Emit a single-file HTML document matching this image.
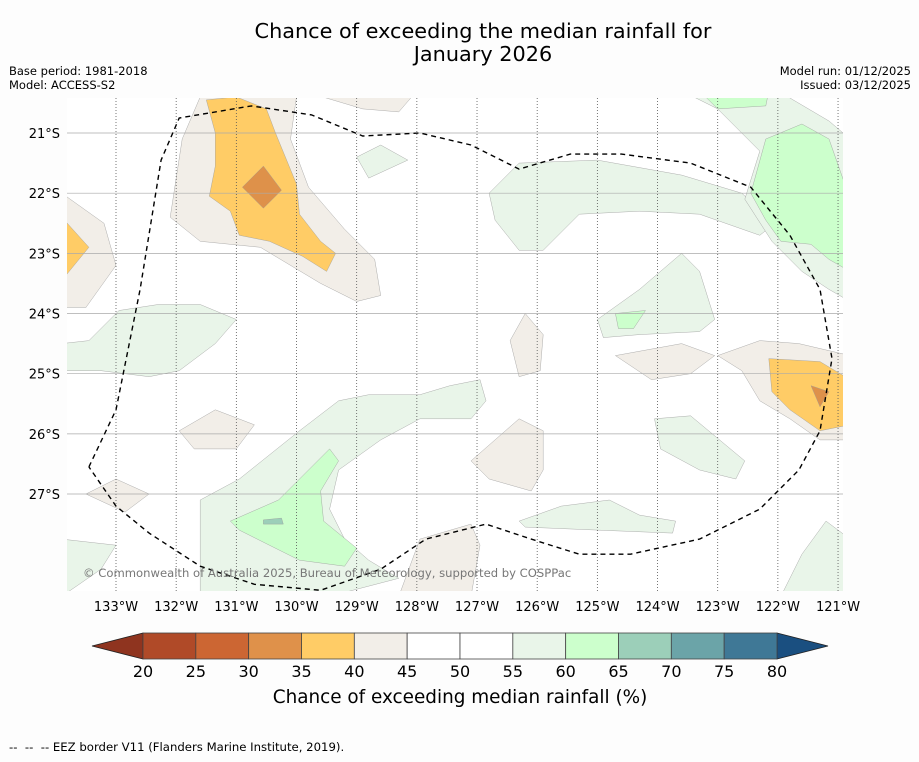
<!DOCTYPE html>
<html><head><meta charset="utf-8">
<style>
html,body{margin:0;padding:0;background:#fdfdfd;}
body{width:919px;height:758px;overflow:hidden;font-family:"DejaVu Sans","Liberation Sans",sans-serif;}
svg text{font-family:"DejaVu Sans","Liberation Sans",sans-serif;}
</style></head>
<body>
<svg id="chart" width="919" height="758" xmlns="http://www.w3.org/2000/svg">
<text x="483" y="38" font-size="20.8" text-anchor="middle" fill="#000">Chance of exceeding the median rainfall for</text>
<text x="483" y="61" font-size="20.8" text-anchor="middle" fill="#000">January 2026</text>
<text x="9" y="75" font-size="11.5">Base period: 1981-2018</text>
<text x="9" y="89" font-size="11.5">Model: ACCESS-S2</text>
<text x="911" y="75" font-size="11.5" text-anchor="end">Model run: 01/12/2025</text>
<text x="911" y="89" font-size="11.5" text-anchor="end">Issued: 03/12/2025</text>
<defs><clipPath id="mapclip"><rect x="67" y="98" width="776" height="493"/></clipPath></defs>
<rect x="67" y="98" width="776" height="493" fill="#fff"/>
<g id="regions" clip-path="url(#mapclip)"></g>
<g id="grid" clip-path="url(#mapclip)"></g>
<g id="eez" clip-path="url(#mapclip)"></g>
<g id="axes"></g>
<text x="83" y="577" font-size="11.6" fill="#777">© Commonwealth of Australia 2025, Bureau of Meteorology, supported by COSPPac</text>
<g id="colorbar"></g>
<text x="460" y="703" font-size="18.4" text-anchor="middle">Chance of exceeding median rainfall (%)</text>
<text x="9" y="751" font-size="11.7">--&#160;&#160;--&#160;&#160;-- EEZ border V11 (Flanders Marine Institute, 2019).</text>
</svg>
<script>
const lonTicks=[-133,-132,-131,-130,-129,-128,-127,-126,-125,-124,-123,-122,-121];
const latTicks=[-21,-22,-23,-24,-25,-26,-27];
const cbLevels=[20,25,30,35,40,45,50,55,60,65,70,75,80];
const cbColors=["#b04a28","#cc6633","#df914a","#ffcc66","#f2eee8","#ffffff","#ffffff","#e9f5e9","#ccffcc","#9ccfb9","#6ba4a8","#3f7896"];
const levelColor={beige:"#f2eee8",orange:"#ffcc66",dark:"#de914a",lgreen:"#e9f5e9",green:"#ccffcc",teal:"#9ccfb9"};
const regionKinds=["beige","orange","dark","beige","beige","orange","lgreen","lgreen","green","green","lgreen","green","beige","orange","dark","beige","beige","lgreen","lgreen","green","teal","beige","beige","lgreen","lgreen","lgreen","beige","beige","lgreen","lgreen"];
const regionShapes=[
[[-132.1,-22.4],[-131.9,-21.1],[-131.6,-20.4],[-130.0,-20.4],[-130.1,-21.1],[-129.8,-21.9],[-129.2,-22.6],[-128.7,-23.1],[-128.6,-23.7],[-129.0,-23.8],[-129.6,-23.5],[-130.6,-22.9],[-131.6,-22.8]],
[[-131.5,-20.45],[-131.0,-20.4],[-130.5,-20.6],[-130.35,-21.0],[-130.0,-21.85],[-129.95,-22.35],[-129.6,-22.8],[-129.35,-23.0],[-129.5,-23.3],[-129.9,-23.05],[-130.45,-22.8],[-130.95,-22.7],[-131.1,-22.3],[-131.45,-22.05],[-131.35,-21.55],[-131.35,-21.0]],
[[-130.9,-21.9],[-130.55,-21.55],[-130.25,-21.95],[-130.55,-22.25]],
[[-129.9,-20.3],[-128.0,-20.3],[-128.3,-20.65],[-128.9,-20.6]],
[[-133.9,-22.0],[-133.2,-22.5],[-133.0,-23.2],[-133.5,-23.9],[-133.9,-23.9]],
[[-133.9,-22.4],[-133.45,-22.9],[-133.9,-23.45]],
[[-126.8,-22.0],[-126.3,-21.5],[-125.0,-21.45],[-123.6,-21.7],[-122.6,-22.0],[-122.05,-22.5],[-122.3,-22.7],[-123.3,-22.35],[-124.3,-22.3],[-125.3,-22.35],[-125.9,-22.95],[-126.3,-22.95],[-126.7,-22.45]],
[[-123.6,-20.3],[-122.0,-20.3],[-121.15,-20.8],[-120.8,-21.1],[-120.8,-23.8],[-121.15,-23.6],[-121.6,-23.3],[-122.1,-22.8],[-122.55,-22.1],[-122.3,-21.3],[-123.0,-20.6]],
[[-122.45,-22.0],[-122.2,-21.1],[-121.6,-20.85],[-121.15,-21.1],[-120.8,-22.1],[-120.8,-23.3],[-121.15,-23.1],[-121.45,-22.85],[-121.95,-22.8],[-122.2,-22.45]],
[[-123.3,-20.3],[-122.15,-20.3],[-122.2,-20.55],[-123.0,-20.6]],
[[-125.0,-24.1],[-124.3,-23.6],[-123.6,-23.0],[-123.3,-23.3],[-123.05,-24.1],[-123.3,-24.3],[-124.3,-24.35],[-124.9,-24.4]],
[[-124.7,-24.0],[-124.2,-23.95],[-124.4,-24.25],[-124.65,-24.25]],
[[-123.0,-24.7],[-122.3,-24.45],[-121.65,-24.5],[-120.8,-24.7],[-120.8,-26.1],[-121.3,-26.1],[-121.8,-25.75],[-122.3,-25.45],[-122.6,-24.95]],
[[-122.15,-24.75],[-121.3,-24.8],[-120.8,-25.1],[-120.8,-25.85],[-121.3,-25.95],[-121.8,-25.6],[-122.1,-25.3]],
[[-121.45,-25.2],[-121.15,-25.3],[-121.3,-25.55]],
[[-124.7,-24.7],[-123.6,-24.5],[-123.05,-24.7],[-123.45,-25.0],[-124.1,-25.1]],
[[-126.45,-24.45],[-126.2,-24.0],[-125.9,-24.35],[-125.95,-24.95],[-126.3,-25.05]],
[[-133.9,-24.5],[-133.45,-24.45],[-132.95,-23.95],[-132.3,-23.85],[-131.6,-23.85],[-131.0,-24.1],[-131.35,-24.5],[-131.95,-24.95],[-132.45,-25.05],[-133.25,-24.95],[-133.9,-24.95]],
[[-131.6,-27.1],[-130.95,-26.75],[-129.95,-25.95],[-129.3,-25.45],[-128.8,-25.35],[-127.95,-25.35],[-127.45,-25.2],[-126.95,-25.1],[-126.85,-25.45],[-127.1,-25.75],[-127.95,-25.75],[-128.6,-26.1],[-129.3,-26.6],[-129.45,-27.25],[-129.2,-27.75],[-128.8,-28.1],[-128.3,-28.4],[-129.45,-28.7],[-131.6,-28.7]],
[[-131.1,-27.45],[-130.3,-27.1],[-129.8,-26.6],[-129.45,-26.25],[-129.3,-26.45],[-129.6,-26.95],[-129.55,-27.45],[-129.0,-27.9],[-129.2,-28.2],[-129.95,-28.1],[-130.45,-27.85],[-130.95,-27.6]],
[[-130.55,-27.43],[-130.25,-27.4],[-130.22,-27.5],[-130.55,-27.5]],
[[-131.95,-25.95],[-131.35,-25.6],[-130.7,-25.85],[-131.0,-26.25],[-131.7,-26.25]],
[[-127.1,-26.45],[-126.3,-25.75],[-125.9,-25.95],[-125.9,-26.6],[-126.1,-26.95],[-126.8,-26.75]],
[[-124.05,-25.75],[-123.45,-25.7],[-122.55,-26.45],[-122.7,-26.75],[-123.3,-26.6],[-123.95,-26.25]],
[[-126.3,-27.45],[-125.6,-27.2],[-124.8,-27.1],[-124.3,-27.35],[-123.7,-27.45],[-123.75,-27.65],[-125.0,-27.6],[-126.2,-27.55]],
[[-121.95,-28.7],[-121.6,-28.0],[-121.2,-27.45],[-120.8,-27.75],[-120.8,-28.7]],
[[-128.3,-28.7],[-127.95,-27.75],[-127.1,-27.5],[-126.95,-27.85],[-127.1,-28.7]],
[[-133.5,-27.0],[-133.0,-26.75],[-132.45,-27.0],[-132.85,-27.3]],
[[-133.9,-27.75],[-133.0,-27.85],[-133.25,-28.25],[-133.9,-28.7]],
[[-129.0,-21.4],[-128.6,-21.2],[-128.15,-21.45],[-128.8,-21.75]]
];
const eezLine=[[-133.45,-26.55],[-133.0,-25.6],[-132.6,-23.6],[-132.25,-21.45],[-131.95,-20.75],[-130.75,-20.55],[-129.75,-20.7],[-128.9,-21.05],[-127.95,-21.0],[-127.1,-21.2],[-126.3,-21.6],[-125.45,-21.35],[-124.6,-21.35],[-123.45,-21.5],[-122.45,-21.9],[-121.8,-22.7],[-121.3,-23.6],[-121.1,-24.75],[-121.3,-25.95],[-121.65,-26.6],[-122.3,-27.25],[-123.3,-27.75],[-124.45,-28.0],[-125.3,-28.0],[-126.1,-27.75],[-126.85,-27.5],[-127.85,-27.75],[-128.6,-28.25],[-129.6,-28.6],[-130.7,-28.5],[-131.6,-28.2],[-132.45,-27.65],[-133.0,-27.2],[-133.45,-26.55]];

const NS="http://www.w3.org/2000/svg";
function xLon(lon){return 116+(lon+133)*60.17;}
function yLat(lat){return 133+(-21-lat)*60.17;}
function xCb(v){return 143+(v-20)*(777-143)/60;}
function mk(tag,attrs,parent){const e=document.createElementNS(NS,tag);for(const k in attrs)e.setAttribute(k,attrs[k]);parent.appendChild(e);return e;}
function pts(arr){return arr.map(p=>xLon(p[0]).toFixed(1)+","+yLat(p[1]).toFixed(1)).join(" ");}

const rg=document.getElementById('regions');
regionShapes.forEach((s,i)=>{
  const p=mk('polygon',{points:pts(s),fill:levelColor[regionKinds[i]],stroke:"#999","stroke-width":"0.4"},rg);
  
  
});
const gg=document.getElementById('grid');
lonTicks.forEach(l=>{
  const ln=mk('line',{x1:xLon(l),x2:xLon(l),y1:98,y2:591,stroke:"#555","stroke-width":"0.8","stroke-dasharray":"1,2"},gg);
  
  
});
latTicks.forEach(l=>{
  const ln=mk('line',{x1:67,x2:843,y1:yLat(l),y2:yLat(l),stroke:"#aaa","stroke-width":"0.7"},gg);
  
  
});
const ez=mk('polyline',{points:pts(eezLine),fill:"none",stroke:"#000","stroke-width":"1.4","stroke-dasharray":"5,4"},document.getElementById('eez'));



const ax=document.getElementById('axes');
lonTicks.forEach(l=>{
  const t=mk('text',{x:xLon(l),y:611,"font-size":"13","text-anchor":"middle"},ax);
  t.textContent=Math.abs(l)+"°W";
  
  
});
latTicks.forEach(l=>{
  const t=mk('text',{x:60,y:yLat(l)+5,"font-size":"13","text-anchor":"end"},ax);
  t.textContent=Math.abs(l)+"°S";
  
  
});

const cb=document.getElementById('colorbar');
const y0=633,y1=659;
const lt=mk('polygon',{points:`92,${(y0+y1)/2} ${xCb(cbLevels[0])},${y0} ${xCb(cbLevels[0])},${y1}`,fill:"#8f341f",stroke:"#222","stroke-width":"0.8"},cb);


const last=cbLevels[cbLevels.length-1];
const rt=mk('polygon',{points:`828,${(y0+y1)/2} ${xCb(last)},${y0} ${xCb(last)},${y1}`,fill:"#1a4f80",stroke:"#222","stroke-width":"0.8"},cb);


cbColors.forEach((c,i)=>{
  const r=mk('rect',{x:xCb(cbLevels[i]),y:y0,width:xCb(cbLevels[i+1])-xCb(cbLevels[i]),height:y1-y0,fill:c,stroke:"#444","stroke-width":"0.8"},cb);
  
  
});
cbLevels.forEach(v=>{
  const t=mk('text',{x:xCb(v),y:677,"font-size":"16","text-anchor":"middle"},cb);
  t.textContent=v;
  
  
});
</script>
</body></html>
